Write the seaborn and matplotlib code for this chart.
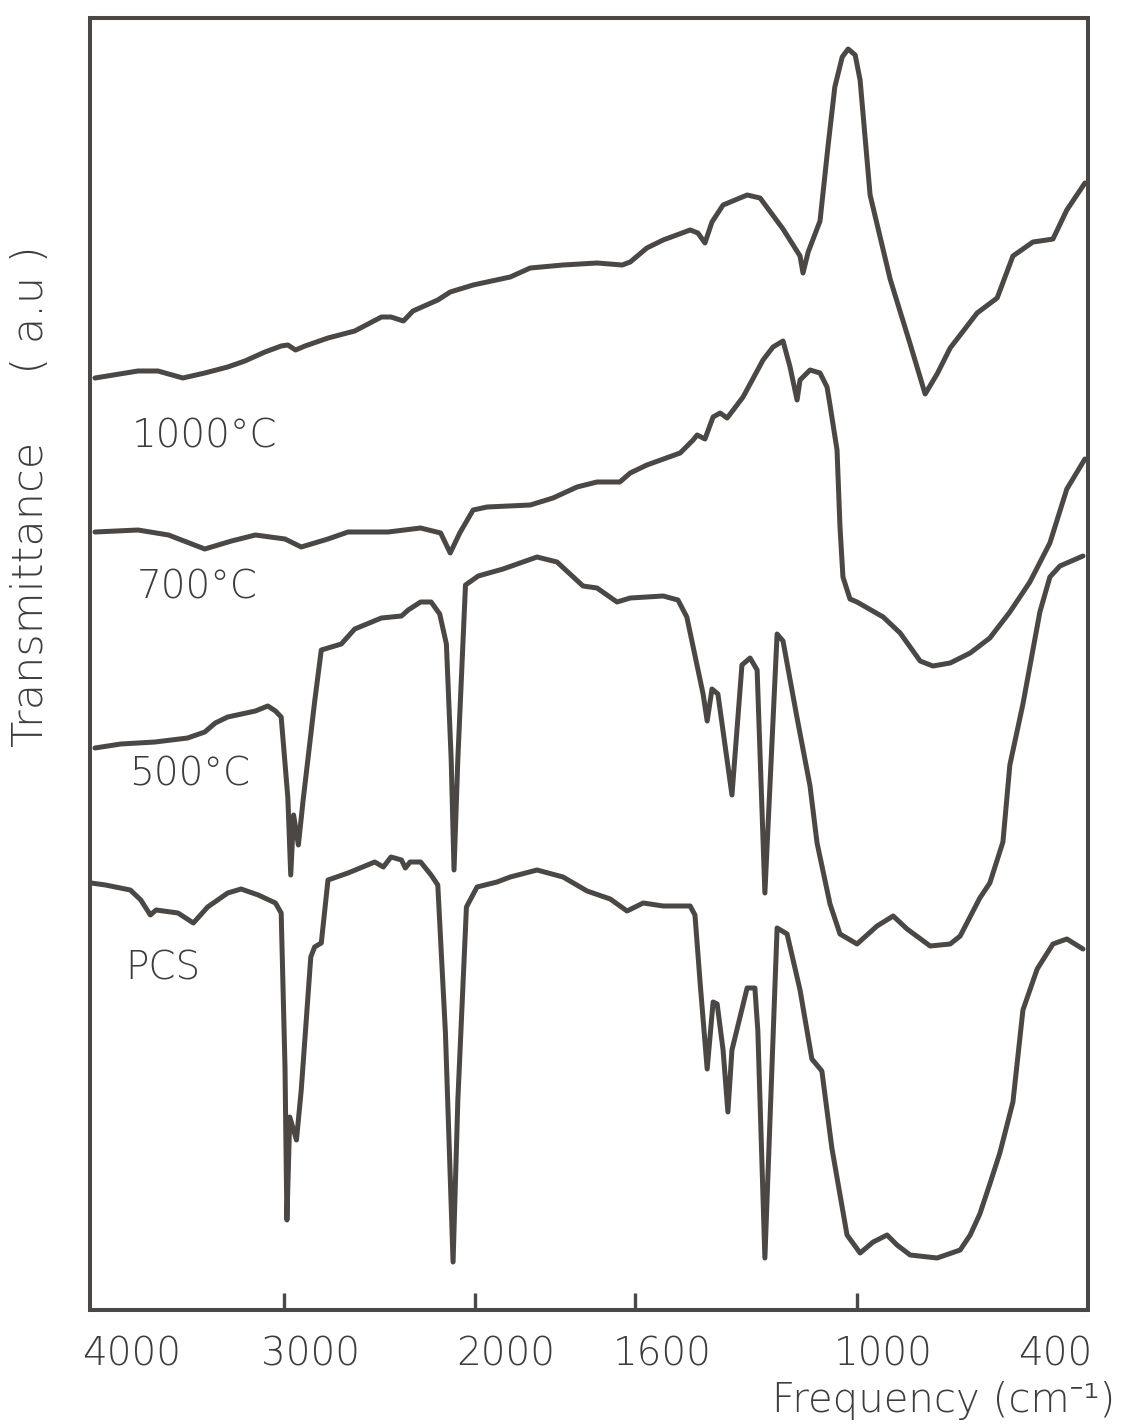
import numpy as np
import pandas as pd
import matplotlib
matplotlib.use("Agg")
import matplotlib.pyplot as plt
import matplotlib.transforms as mtransforms
import seaborn as sns

# ---- spectra: wavenumber (cm-1) and transmittance (arbitrary units) ----
w_1000 = [3990, 3765, 3660, 3530, 3415, 3295, 3205, 3100, 3015, 2980, 2940, 2890,
          2770, 2630, 2490, 2440, 2375, 2325, 2195, 2130, 2010, 1912, 1862, 1780,
          1695, 1632, 1612, 1568, 1524, 1451, 1430, 1411, 1392, 1362, 1297, 1262,
          1200, 1154, 1146, 1132, 1100, 1078, 1060, 1040, 1024, 1005, 992, 966,
          914, 862, 823, 792, 758, 688, 636, 595, 543, 507, 491, 455, 408]
t_1000 = [93.2, 93.9, 93.9, 93.2, 93.7, 94.3, 94.9, 95.8, 96.4, 96.5, 96.0, 96.4,
          97.2, 97.9, 99.3, 99.3, 98.9, 99.9, 101.0, 101.8, 102.5, 103.3, 104.2, 104.5,
          104.7, 104.5, 104.8, 106.2, 107.0, 108.0, 107.7, 106.7, 108.8, 110.5, 111.5, 111.2,
          108.1, 105.4, 103.7, 105.8, 108.9, 116.5, 122.3, 125.3, 126.1, 125.5, 123.0, 111.5,
          103.1, 96.6, 91.6, 93.6, 96.2, 99.7, 101.2, 105.4, 106.8, 107.0, 107.1, 110.0, 112.7]

w_700 = [3990, 3765, 3605, 3415, 3275, 3150, 2995, 2910, 2770, 2665, 2455, 2285,
         2180, 2130, 2080, 2010, 1970, 1862, 1805, 1745, 1695, 1638, 1612, 1568,
         1478, 1443, 1432, 1411, 1389, 1370, 1351, 1308, 1254, 1227, 1200, 1181,
         1162, 1154, 1127, 1100, 1081, 1073, 1054, 1046, 1038, 1019, 1000, 932,
         888, 836, 803, 758, 706, 655, 603, 551, 499, 455, 408]
t_700 = [77.8, 78.0, 77.5, 76.1, 76.9, 77.5, 77.1, 76.3, 77.1, 77.8, 77.8, 78.2,
         77.7, 75.7, 77.7, 80.0, 80.3, 80.5, 81.2, 82.3, 82.8, 82.8, 83.7, 84.5,
         85.7, 87.0, 87.5, 87.1, 89.3, 89.7, 89.2, 91.3, 95.0, 96.3, 96.9, 94.3,
         91.0, 93.0, 94.0, 93.7, 92.3, 90.5, 86.0, 78.3, 73.3, 71.1, 70.8, 69.3,
         67.7, 64.9, 64.4, 64.7, 65.7, 67.2, 69.8, 72.8, 76.7, 82.1, 85.1]

w_500 = [3990, 3855, 3675, 3505, 3415, 3360, 3295, 3150, 3085, 3045, 3015, 2980,
         2965, 2950, 2925, 2900, 2840, 2805, 2700, 2630, 2490, 2385, 2350, 2285,
         2230, 2185, 2150, 2125, 2110, 2090, 2050, 1992, 1930, 1845, 1795, 1730,
         1695, 1645, 1612, 1524, 1484, 1460, 1416, 1405, 1392, 1376, 1338, 1311,
         1289, 1270, 1249, 1216, 1200, 1162, 1127, 1108, 1073, 1046, 1000, 948,
         906, 870, 810, 758, 732, 681, 655, 621, 603, 569, 525, 499, 473, 413]
t_500 = [56.2, 56.6, 56.8, 57.2, 57.8, 58.7, 59.3, 59.9, 60.4, 59.9, 59.3, 51.2,
         43.5, 49.5, 46.5, 51.0, 60.8, 66.0, 66.6, 68.1, 69.2, 69.4, 70.0, 70.8,
         70.8, 69.6, 66.6, 55.1, 44.0, 55.1, 72.5, 73.4, 74.1, 75.3, 74.8, 72.4,
         72.2, 70.8, 71.2, 71.4, 71.0, 69.3, 61.6, 58.9, 62.1, 61.6, 51.5, 64.5,
         65.2, 64.0, 41.7, 67.6, 66.9, 59.2, 52.4, 46.7, 40.6, 37.6, 36.6, 38.4,
         39.4, 38.1, 36.4, 36.6, 37.4, 41.2, 42.7, 46.8, 54.5, 60.6, 69.8, 73.3, 74.4, 75.4]

w_pcs = [4010, 3935, 3805, 3750, 3700, 3670, 3555, 3475, 3400, 3295, 3225, 3135,
         3045, 3015, 2995, 2985, 2970, 2935, 2910, 2860, 2840, 2805, 2770, 2665,
         2525, 2480, 2440, 2385, 2365, 2340, 2285, 2230, 2195, 2155, 2115, 2090,
         2045, 1995, 1945, 1912, 1845, 1780, 1720, 1662, 1620, 1578, 1524, 1451,
         1438, 1424, 1405, 1389, 1378, 1362, 1349, 1338, 1297, 1276, 1268, 1249,
         1216, 1189, 1154, 1122, 1095, 1068, 1027, 992, 958, 922, 896, 862,
         792, 732, 706, 681, 655, 629, 595, 569, 532, 491, 455, 413]
t_pcs = [42.7, 42.5, 42.0, 41.0, 39.5, 40.0, 39.7, 38.7, 40.3, 41.7, 42.1, 41.5,
         40.7, 39.7, 24.3, 9.0, 19.3, 17.0, 22.0, 35.3, 36.3, 36.7, 43.0, 43.7,
         44.8, 44.3, 45.3, 45.0, 44.2, 44.8, 44.8, 43.5, 42.5, 27.7, 4.8, 21.0,
         40.3, 42.3, 42.8, 43.3, 44.0, 43.3, 41.9, 41.1, 39.9, 40.7, 40.4, 40.4,
         39.5, 32.7, 24.1, 30.8, 30.6, 26.0, 19.8, 26.0, 32.2, 32.2, 27.9, 5.2,
         38.2, 37.6, 32.0, 25.1, 23.9, 16.2, 7.5, 5.7, 6.8, 7.5, 6.5, 5.5,
         5.2, 6.0, 7.5, 9.6, 12.6, 15.7, 20.8, 30.0, 34.1, 36.6, 37.1, 36.1]

samples = ["1000°C", "700°C", "500°C", "PCS"]
label_pos = [(3800, 87.3), (3770, 72.2), (3810, 53.5), (3830, 34.1)]   # (cm-1, a.u.) of curve names

tick_values = [3000, 2000, 1600, 1000]
label_values = [4000, 3000, 2000, 1600, 1000, 400]
label_texts = ["4000", "3000", "2000", "1600", "1000", "400"]

# ---- chart paper x-scale: piecewise linear in wavenumber ----
_W = np.array([300, 400, 1000, 1600, 2000, 3000, 4000, 4200], dtype=float)
_P = np.array([1126.5, 1088, 857, 635, 475, 284, 93, 54.8])


def _fwd(w):
    # increasing function of wavenumber; axis is inverted below
    return -np.interp(np.asarray(w, dtype=float), _W, _P)


def _inv(p):
    return np.interp(-np.asarray(p, dtype=float), _P[::-1], _W[::-1])


frames = []
for name, w, t in zip(samples, [w_1000, w_700, w_500, w_pcs],
                      [t_1000, t_700, t_500, t_pcs]):
    frames.append(pd.DataFrame({"wavenumber": w, "transmittance": t, "sample": name}))
df = pd.concat(frames, ignore_index=True)

ink = "#4a4744"
sns.set_theme(style="white")
plt.rcParams["font.family"] = ["DejaVu Sans", "Noto Sans"]

fig = plt.figure(figsize=(11.26, 14.24), dpi=100)
ax = fig.add_axes([90 / 1126, 1 - 1310 / 1424, 998 / 1126, 1292 / 1424])

sns.lineplot(data=df, x="wavenumber", y="transmittance", hue="sample",
             units="sample", estimator=None, sort=False, legend=False,
             palette={s: ink for s in samples}, linewidth=3.6, ax=ax)
for line in ax.get_lines():
    line.set_solid_joinstyle("round")
    line.set_solid_capstyle("round")

ax.set_xscale("function", functions=(_fwd, _inv))
ax.set_xlim(4016, 400)
ax.set_ylim(0, 129.2)
ax.set_xlabel("")
ax.set_ylabel("")
ax.set_yticks([])
ax.set_xticks(tick_values)
ax.set_xticklabels([])
ax.tick_params(axis="x", direction="in", length=12, width=2.4, color=ink, bottom=True)
for sp in ax.spines.values():
    sp.set_visible(True)
    sp.set_color(ink)
    sp.set_linewidth(2.9)

text_kw = dict(color="#3f3d3b", fontsize=28, fontweight="light",
               family=["DejaVu Sans", "Noto Sans", "Lato"])

# frequency labels sit to the right of their ticks, as on the chart paper
trans = mtransforms.blended_transform_factory(ax.transData, ax.transAxes)
offsets_px = [39, 26, 31, 27, 26, -33]
for v, txt, dx in zip(label_values, label_texts, offsets_px):
    off = mtransforms.ScaledTranslation(dx / 100, -44 / 100, fig.dpi_scale_trans)
    ax.text(v, 0, txt, transform=trans + off, ha="center", va="center", **text_kw)

for name, (xw, yv) in zip(samples, label_pos):
    ax.text(xw, yv, name, ha="left", va="center", **text_kw)

freq_kw = dict(text_kw, fontsize=29)
fig.text(944 / 1126, 1 - 1400 / 1424, "Frequency (cm⁻¹)", ha="center", va="center", **freq_kw)
ylab_kw = dict(text_kw, fontsize=31)
fig.text(31 / 1126, 1 - 496 / 1424, "Transmittance     ( a.u )", rotation=90,
         ha="center", va="center", **ylab_kw)

fig.savefig("out.png", dpi=100)
